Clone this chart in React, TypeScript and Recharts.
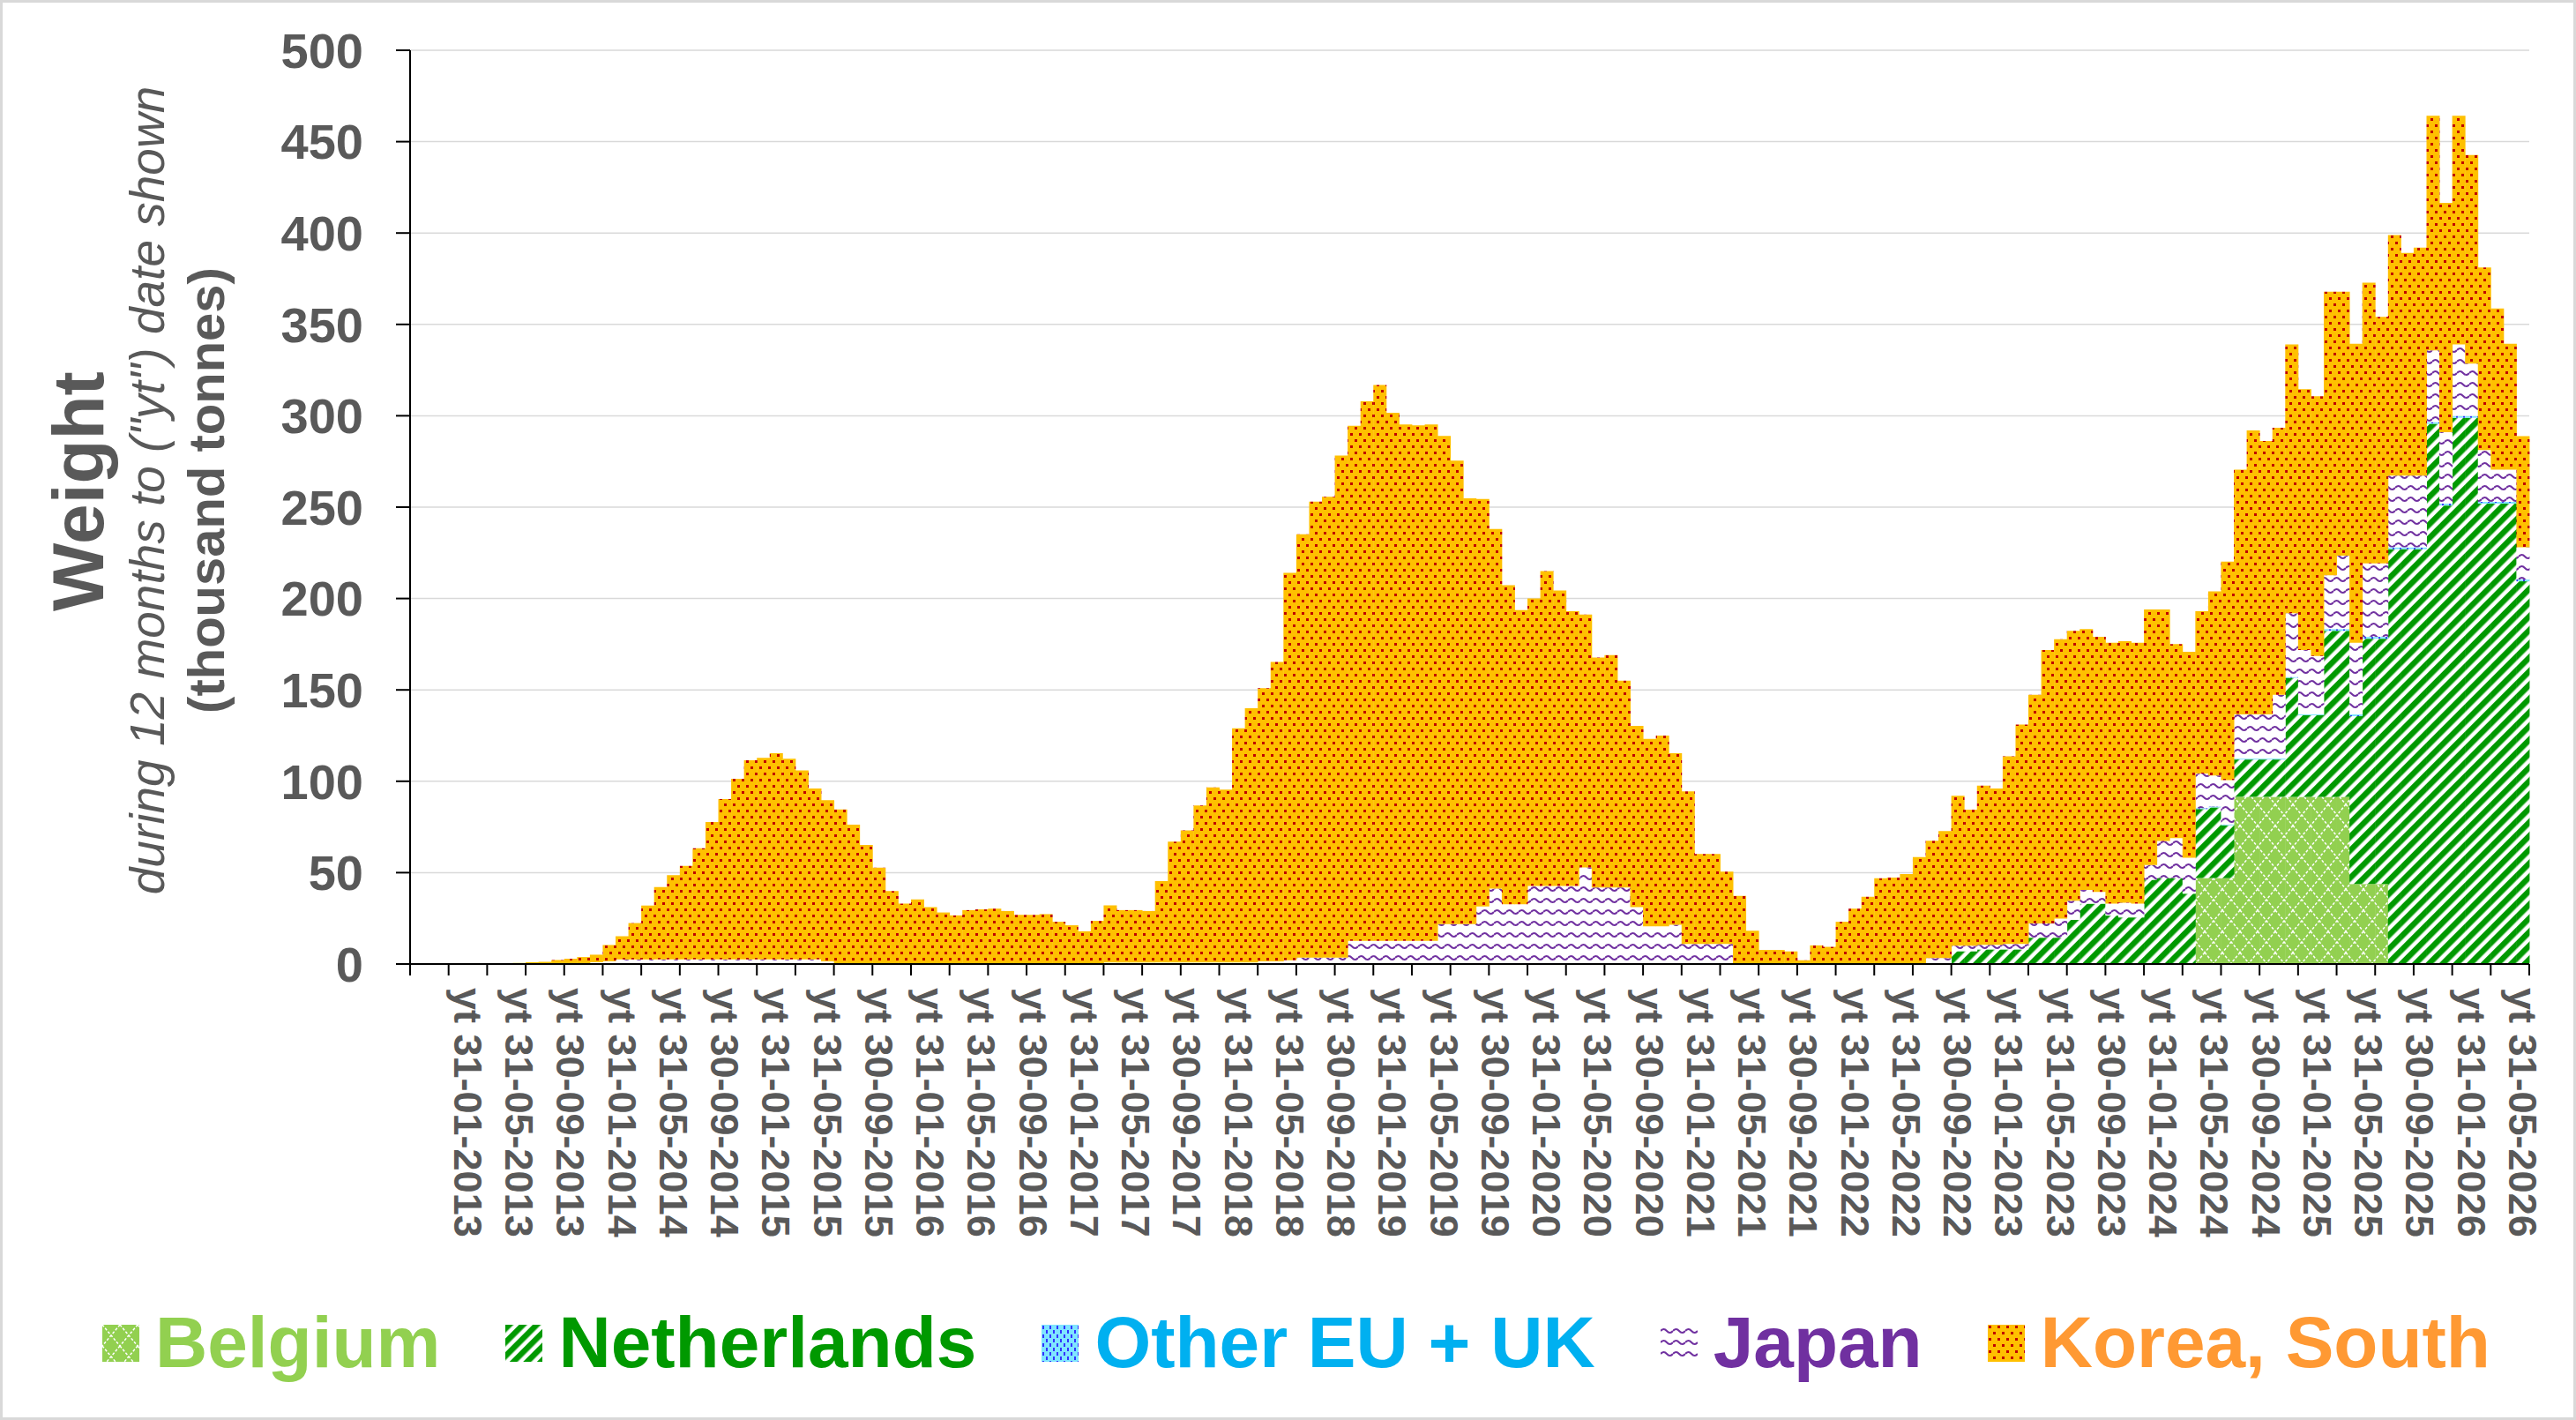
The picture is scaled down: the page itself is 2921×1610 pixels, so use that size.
import React from "react";
import { BarChart, Bar, XAxis, YAxis, CartesianGrid, Legend, Label } from "recharts";

// monthly categories, "yt" = year to end of month, Sep 2012 .. May 2026
const START_YEAR = 2012;
const START_MONTH = 8;
const MONTH_COUNT = 165;

const TICK_LABELS = [
  "yt 31-01-2013", "yt 31-05-2013", "yt 30-09-2013",
  "yt 31-01-2014", "yt 31-05-2014", "yt 30-09-2014",
  "yt 31-01-2015", "yt 31-05-2015", "yt 30-09-2015",
  "yt 31-01-2016", "yt 31-05-2016", "yt 30-09-2016",
  "yt 31-01-2017", "yt 31-05-2017", "yt 30-09-2017",
  "yt 31-01-2018", "yt 31-05-2018", "yt 30-09-2018",
  "yt 31-01-2019", "yt 31-05-2019", "yt 30-09-2019",
  "yt 31-01-2020", "yt 31-05-2020", "yt 30-09-2020",
  "yt 31-01-2021", "yt 31-05-2021", "yt 30-09-2021",
  "yt 31-01-2022", "yt 31-05-2022", "yt 30-09-2022",
  "yt 31-01-2023", "yt 31-05-2023", "yt 30-09-2023",
  "yt 31-01-2024", "yt 31-05-2024", "yt 30-09-2024",
  "yt 31-01-2025", "yt 31-05-2025", "yt 30-09-2025",
  "yt 31-01-2026", "yt 31-05-2026",
];

const Y_TICKS = [0, 50, 100, 150, 200, 250, 300, 350, 400, 450, 500];

// thousand tonnes, one value per month
const BELGIUM = [
  0, 0, 0, 0, 0, 0, 0, 0, 0, 0, 0, 0, 0, 0, 0, 0, 0, 0, 0, 0,
  0, 0, 0, 0, 0, 0, 0, 0, 0, 0, 0, 0, 0, 0, 0, 0, 0, 0, 0, 0,
  0, 0, 0, 0, 0, 0, 0, 0, 0, 0, 0, 0, 0, 0, 0, 0, 0, 0, 0, 0,
  0, 0, 0, 0, 0, 0, 0, 0, 0, 0, 0, 0, 0, 0, 0, 0, 0, 0, 0, 0,
  0, 0, 0, 0, 0, 0, 0, 0, 0, 0, 0, 0, 0, 0, 0, 0, 0, 0, 0, 0,
  0, 0, 0, 0, 0, 0, 0, 0, 0, 0, 0, 0, 0, 0, 0, 0, 0, 0, 0, 0,
  0, 0, 0, 0, 0, 0, 0, 0, 0, 0, 0, 0, 0, 0, 0, 0, 0, 0, 0, 47,
  47, 47, 91.5, 91.5, 91.5, 91.5, 91.5, 91.5, 91.5, 91.5,
  91.5, 43.8, 43.8, 43.8, 0, 0, 0, 0, 0, 0,
  0, 0, 0, 0, 0,
];

const NETHERLANDS = [
  0, 0, 0, 0, 0, 0, 0, 0, 0, 0, 0, 0, 0, 0, 0, 0, 0, 0, 0, 0,
  0, 0, 0, 0, 0, 0, 0, 0, 0, 0, 0, 0, 0, 0, 0, 0, 0, 0, 0, 0,
  0, 0, 0, 0, 0, 0, 0, 0, 0, 0, 0, 0, 0, 0, 0, 0, 0, 0, 0, 0,
  0, 0, 0, 0, 0, 0, 0, 0, 0, 0, 0, 0, 0, 0, 0, 0, 0, 0, 0, 0,
  0, 0, 0, 0, 0, 0, 0, 0, 0, 0, 0, 0, 0, 0, 0, 0, 0, 0, 0, 0,
  0, 0, 0, 0, 0, 0, 0, 0, 0, 0, 0, 0, 0, 0, 0, 0, 0, 0, 0, 0,
  7, 7, 8, 8, 8, 8, 14.4, 14.4, 14.4, 24.2,
  33, 33, 26.5, 25.5, 25.5, 46.1, 47, 47, 38.5, 37.8,
  38.7, 28.9, 20.4, 20.4, 20.4, 20.4, 65.1, 44.6, 44.6, 90.8,
  90.8, 91.8, 134.2, 134.2, 227, 227, 227, 295.6, 250.9, 298.9,
  298.9, 251.9, 251.9, 251.9, 209.4,
];

const OTHER_EU_UK = [
  0, 0, 0, 0, 0, 0, 0, 0, 0, 0, 0, 0, 0, 0, 0, 0, 0, 0, 0, 0,
  0, 0, 0, 0, 0, 0, 0, 0, 0, 0, 0, 0, 0, 0, 0, 0, 0, 0, 0, 0,
  0, 0, 0, 0, 0, 0, 0, 0, 0, 0, 0, 0, 0, 0, 0, 0, 0, 0, 0, 0,
  0, 0, 0, 0, 0, 0, 0, 0, 0, 0, 0, 0, 0, 0, 0, 0, 0, 0, 0, 0,
  0, 0, 0, 0, 0, 0, 0, 0, 0, 0, 0, 0, 0, 0, 0, 0, 0, 0, 0, 0,
  0, 0, 0, 0, 0, 0, 0, 0, 0, 0, 0, 0, 0, 0, 0, 0, 0, 0, 0, 0,
  0, 0, 0, 0, 0, 0, 0, 0, 0, 0, 0, 0, 0, 0, 0, 0, 0, 0, 0, 0.5,
  0.5, 0.5, 0.5, 0.5, 0.5, 0.5, 0.5, 0.5, 0.5, 1,
  1, 1, 1, 1, 1, 1, 1, 1, 1, 1,
  1, 1, 1, 1, 1,
];

const JAPAN = [
  0, 0, 0, 0, 0, 0, 0, 0, 0, 0,
  0, 0.5, 0.5, 0.5, 1, 1.5, 2.5, 2.5, 2.5, 2.5,
  2.5, 2.5, 2.5, 2.5, 2.5, 2.5, 2.5, 2.5, 2.5, 2.5,
  2.5, 2.5, 1.5, 0.5, 0.5, 0.5, 0, 0, 0, 0,
  0, 0, 0, 0, 0, 0, 0, 0, 0, 0,
  0, 0, 0, 0, 0.8, 0.8, 0.8, 0.8, 0.8, 0.8,
  0.8, 0.8, 0.8, 0.8, 0.8, 0.8, 1.5, 1.5, 2, 3.5,
  3.5, 3.5, 3.5, 12.7, 12.7, 12.7, 12.7, 12.7, 12.7, 12.7,
  21.8, 21.8, 21.8, 31.5, 41.3, 32.7, 32.7, 42.7, 42.7, 42.7,
  42.7, 52.9, 41.9, 41.9, 41.9, 31.1, 20.6, 20.6, 21.5, 11,
  11, 11, 11, 0, 0, 0, 0, 0, 0, 0,
  0, 0, 0, 0, 0, 0, 0, 0, 3.2, 3.2,
  3, 3, 2.5, 2.5, 3, 3, 7.8, 7.8, 10.4, 10.4,
  7.5, 6.5, 6.5, 8.1, 7.5, 8.1, 20.3, 21.9, 19.7, 18.9,
  17, 24.2, 24.2, 24.2, 24.2, 34.9, 34.9, 35.2, 32, 29.4,
  40.2, 39.2, 40.2, 40.2, 39.2, 39.2, 39.2, 39.2, 39.1, 39.2,
  28.7, 28.4, 17.6, 17.6, 17.6,
];

const KOREA_SOUTH = [
  0, 0, 0, 0.5, 0.5, 0.5, 0.5, 0.5, 0.6, 1,
  1.2, 1.7, 2.4, 3.3, 4.1, 8.9, 12.7, 19.9, 29.5, 39.6,
  46.1, 51.2, 60.8, 75.2, 87.7, 98.8, 109, 110.3, 112.9, 109.8,
  103.4, 93.5, 88.2, 84.1, 75.8, 64.7, 52.7, 39.9, 33, 35.4,
  31.1, 28.2, 26.6, 29.5, 29.9, 30.3, 29, 26.9, 26.9, 27.3,
  23.1, 21.2, 17.9, 23.6, 31.3, 28.7, 28.7, 28.2, 44.6, 66.2,
  72.3, 85.9, 95.9, 94.6, 128.2, 139.2, 149.4, 163.8, 212, 231.7,
  249.5, 252.2, 274.7, 281.8, 295.2, 304.1, 289, 282.5, 282.1, 282.5,
  267.2, 253.7, 233, 223, 196.7, 174.6, 161, 157.3, 172.3, 161.7,
  150.3, 138.4, 125.8, 127.1, 113.1, 99.2, 102.6, 104.4, 93.8, 83.5,
  49.2, 49.2, 39.5, 37.3, 18.2, 7.7, 7.7, 6.9, 2.1, 10.2,
  9.4, 23.1, 30.3, 36.8, 46.9, 47.3, 49.2, 58.5, 64.2, 69.5,
  82.1, 74.4, 87.1, 85.5, 102.7, 120, 125.1, 149.6, 152.9, 147.7,
  142.8, 139.5, 142.8, 143.1, 142.8, 139.8, 126.7, 106.2, 112.7, 88.8,
  100.7, 119.6, 133.9, 155.4, 149.6, 146.1, 147.1, 142.8, 142.1, 155.2,
  144.4, 163.6, 153.6, 134.9, 131.7, 121.9, 124.8, 128.4, 125.5, 125.1,
  114.1, 99.9, 88.2, 68.9, 60.8,
];

const SERIES = [
  { key: "belgium", name: "Belgium", fill: "url(#patBelgium)", text: "#92D050" },
  { key: "netherlands", name: "Netherlands", fill: "url(#patNeth)", text: "#009900" },
  { key: "other", name: "Other EU + UK", fill: "url(#patOther)", text: "#00B0F0" },
  { key: "japan", name: "Japan", fill: "url(#patJapan)", text: "#7030A0" },
  { key: "korea", name: "Korea, South", fill: "url(#patKorea)", text: "#FF9933" },
];

const CHART_W = 2921;
const CHART_H = 1610;
const Y_AXIS_W = 465;
const MARGIN_RIGHT = 53;
const BAND = (CHART_W - Y_AXIS_W - MARGIN_RIGHT) / MONTH_COUNT;
const GREY = "#595959";
const FONT = "'Liberation Sans', Arial, sans-serif";

function monthLabel(i: number) {
  const y = START_YEAR + Math.floor((START_MONTH + i) / 12);
  const m = (START_MONTH + i) % 12;
  const d = new Date(y, m + 1, 0).getDate();
  return `yt ${String(d).padStart(2, "0")}-${String(m + 1).padStart(2, "0")}-${y}`;
}

const months = Array.from({ length: MONTH_COUNT }, (_, i) => monthLabel(i));
const shownTicks = new Set(TICK_LABELS);

const data = months.map((month, i) => ({
  month,
  belgium: BELGIUM[i],
  netherlands: NETHERLANDS[i],
  other: OTHER_EU_UK[i],
  japan: JAPAN[i],
  korea: KOREA_SOUTH[i],
}));

const Patterns = () => (
  <svg width="0" height="0" style={{ position: "absolute" }}>
    <defs>
      <pattern id="patKorea" width="10" height="14" patternUnits="userSpaceOnUse">
        <rect width="10" height="14" fill="#FFC000" />
        <rect x="1" y="1" width="3" height="3" fill="#C00000" />
        <rect x="6" y="8" width="3" height="3" fill="#C00000" />
      </pattern>
      <pattern id="patJapan" width="14" height="13" patternUnits="userSpaceOnUse">
        <rect width="14" height="13" fill="#FFFFFF" />
        <path d="M0 7 Q3.5 3 7 7 T14 7" fill="none" stroke="#7030A0" strokeWidth="2" />
      </pattern>
      <pattern id="patNeth" width="11" height="11" patternUnits="userSpaceOnUse" patternTransform="rotate(45)">
        <rect width="11" height="11" fill="#FFFFFF" />
        <rect width="6.5" height="11" fill="#009900" />
      </pattern>
      <pattern id="patBelgium" width="20" height="24" patternUnits="userSpaceOnUse">
        <rect width="20" height="24" fill="#92D050" />
        <path d="M0 0 L20 24 M20 0 L0 24" stroke="#FFFFFF" strokeWidth="1.5" strokeDasharray="3 2" />
      </pattern>
      <pattern id="patOther" width="8" height="10" patternUnits="userSpaceOnUse">
        <rect width="8" height="10" fill="#7FE5FF" />
        <rect x="1" y="1" width="2" height="4" fill="#3333FF" />
        <rect x="5" y="6" width="2" height="4" fill="#3333FF" />
      </pattern>
    </defs>
  </svg>
);

const MonthTick = (props: any) => {
  const { x, y, index, payload } = props;
  const axisY = y - 27;
  const half = BAND / 2;
  return (
    <g>
      {index % 3 === 0 && (
        <line x1={x - half} x2={x - half} y1={axisY} y2={axisY + 13} stroke="#000" strokeWidth={2} />
      )}
      {index === MONTH_COUNT - 1 && (
        <line x1={x + half} x2={x + half} y1={axisY} y2={axisY + 13} stroke="#000" strokeWidth={2} />
      )}
      {shownTicks.has(payload.value) && (
        <text
          transform={`translate(${x},${y}) rotate(90)`}
          dy="0.35em"
          textAnchor="start"
          fill={GREY}
          fontSize={45}
          fontWeight={700}
        >
          {payload.value}
        </text>
      )}
    </g>
  );
};

const AxisTitle = () => (
  <g fill={GREY}>
    <text transform="translate(117,557) rotate(-90)" textAnchor="middle" fontSize={82} fontWeight={700}>
      Weight
    </text>
    <text transform="translate(186,556) rotate(-90)" textAnchor="middle" fontSize={55} fontStyle="italic">
      during 12 months to ("yt") date shown
    </text>
    <text transform="translate(254,556) rotate(-90)" textAnchor="middle" fontSize={58} fontWeight={700}>
      (thousand tonnes)
    </text>
  </g>
);

const LegendContent = () => (
  <div
    style={{
      height: 157,
      boxSizing: "border-box",
      paddingTop: 28,
      paddingLeft: 116,
      display: "flex",
      alignItems: "flex-start",
      fontFamily: FONT,
    }}
  >
    {SERIES.map((s, i) => (
      <div key={s.key} style={{ display: "flex", alignItems: "flex-start", marginLeft: i === 0 ? 0 : 74 }}>
        <svg width={42} height={42} style={{ marginTop: 21, marginRight: 18, display: "block" }}>
          <rect width={42} height={42} fill={s.fill} />
        </svg>
        <span style={{ color: s.text, fontSize: 82, fontWeight: 700, lineHeight: "82px", whiteSpace: "nowrap" }}>
          {s.name}
        </span>
      </div>
    ))}
  </div>
);

export default function App() {
  return (
    <div style={{ position: "relative", width: CHART_W, height: CHART_H, background: "#fff", fontFamily: FONT }}>
      <style>{"body{margin:0;}"}</style>
      <Patterns />
      <BarChart
        width={CHART_W}
        height={CHART_H}
        data={data}
        margin={{ top: 57, right: MARGIN_RIGHT, left: 0, bottom: 0 }}
        barCategoryGap={0}
        barGap={0}
      >
        <CartesianGrid vertical={false} stroke="#D9D9D9" strokeWidth={1.5} />
        <XAxis
          dataKey="month"
          interval={0}
          height={360}
          tickSize={13}
          tickMargin={14}
          tickLine={false}
          axisLine={{ stroke: "#000", strokeWidth: 2 }}
          tick={<MonthTick />}
        />
        <YAxis
          width={Y_AXIS_W}
          domain={[0, 500]}
          ticks={Y_TICKS}
          interval={0}
          tickSize={16}
          tickMargin={37}
          axisLine={{ stroke: "#000", strokeWidth: 2 }}
          tickLine={{ stroke: "#000", strokeWidth: 2 }}
          tick={{ fill: GREY, fontSize: 56, fontWeight: 700 }}
        >
          <Label content={<AxisTitle />} />
        </YAxis>
        <Legend verticalAlign="bottom" content={() => <LegendContent />} />
        {SERIES.map((s) => (
          <Bar key={s.key} dataKey={s.key} name={s.name} stackId="w" fill={s.fill} isAnimationActive={false} />
        ))}
      </BarChart>
      <div
        style={{
          position: "absolute",
          inset: 0,
          border: "3px solid #D9D9D9",
          pointerEvents: "none",
        }}
      />
    </div>
  );
}
